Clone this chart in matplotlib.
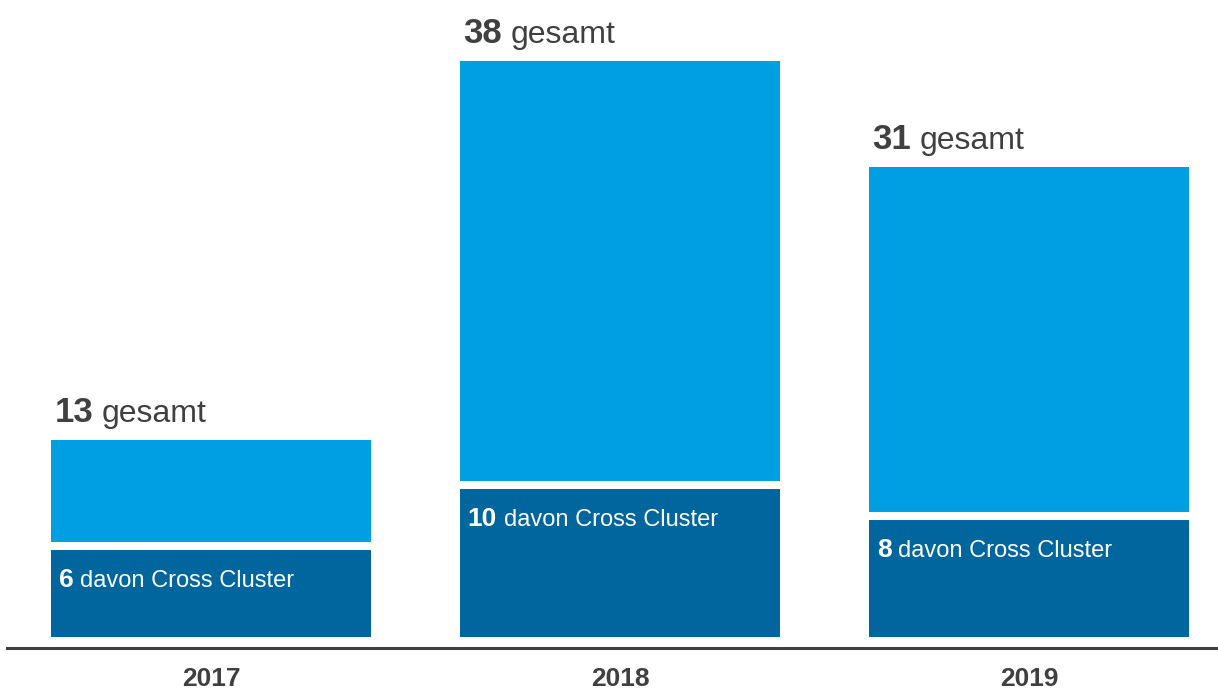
import matplotlib.pyplot as plt
import numpy as np

plt.rcParams['font.family'] = ['Liberation Sans', 'DejaVu Sans']

years = ["2017", "2018", "2019"]
total = [13, 38, 31]
cross_cluster = [6, 10, 8]

light_blue = "#009fe3"
dark_blue = "#00669d"
text_grey = "#404040"

fig = plt.figure(figsize=(12.18, 6.92), dpi=100)
# axes spans from the base line (y=648px) up to the top edge
ax = fig.add_axes([7 / 1218, 44 / 692, 1 - 7 / 1218, 648 / 692])

x = np.arange(len(years))
width = 0.7824
px_per_unit = 15.16
ax.set_xlim((7 - 211) / 409, (1218 - 211) / 409)
ax.set_ylim(-11 / px_per_unit, 637 / px_per_unit)

upper = [t - c for t, c in zip(total, cross_cluster)]
ax.bar(x, cross_cluster, width, color=dark_blue, align='center')
ax.bar(x, upper, width, bottom=cross_cluster, color=light_blue, align='center')
# white gap between the two segments
ax.hlines(cross_cluster, x - width / 2, x + width / 2, color="white", lw=5.8)

for xi, t, c in zip(x, total, cross_cluster):
  left = xi - width / 2
  num = ax.annotate(str(t), (left, t), textcoords="offset points", xytext=(2.5, 13),
                    ha='left', va='baseline', fontsize=25, fontweight='bold', color=text_grey)
  ax.annotate("gesamt", xy=(1, t), xycoords=(num, 'data'), textcoords="offset points",
              xytext=(6, 13), ha='left', va='baseline', fontsize=23, color=text_grey)
  num2 = ax.annotate(str(c), (left, c), textcoords="offset points", xytext=(5.5, -29.5),
                     ha='left', va='baseline', fontsize=19, fontweight='bold', color="white")
  ax.annotate("davon Cross Cluster", xy=(1, c), xycoords=(num2, 'data'), textcoords="offset points",
              xytext=(5, -29.5), ha='left', va='baseline', fontsize=17, color="white")

for s in ["top", "left", "right"]:
  ax.spines[s].set_visible(False)
ax.spines["bottom"].set_color(text_grey)
ax.spines["bottom"].set_linewidth(2.2)
ax.set_yticks([])
ax.set_xticks(x)
ax.set_xticklabels(years, fontsize=19, fontweight='bold', color=text_grey)
ax.tick_params(axis='x', length=0, pad=14)

plt.savefig("out.png", dpi=100)
plt.close()
